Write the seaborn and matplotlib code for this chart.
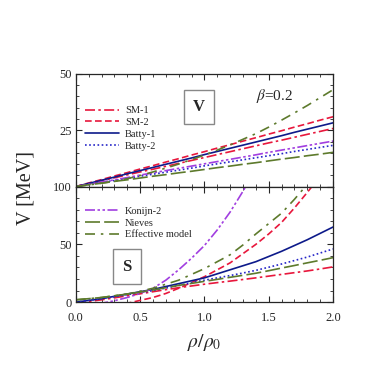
import seaborn as sns
import matplotlib.pyplot as plt
from matplotlib.ticker import MultipleLocator, FixedLocator

rho = [0.0, 0.1, 0.2, 0.3, 0.4, 0.5, 0.6, 0.7, 0.8, 0.9, 1.0,
       1.1, 1.2, 1.3, 1.4, 1.5, 1.6, 1.7, 1.8, 1.9, 2.0]

# vector potential (upper panel)
v_sm1 = [0, 1.3, 2.6, 3.9, 5.2, 6.5, 7.7, 9.0, 10.3, 11.6, 12.9,
         14.2, 15.5, 16.8, 18.1, 19.4, 20.6, 21.9, 23.2, 24.5, 25.8]
v_sm2 = [0, 1.6, 3.1, 4.7, 6.2, 7.8, 9.3, 10.9, 12.4, 14.0, 15.5,
         17.1, 18.6, 20.2, 21.7, 23.3, 24.8, 26.4, 27.9, 29.5, 31.0]
v_batty1 = [0, 1.4, 2.8, 4.2, 5.7, 7.1, 8.5, 9.9, 11.3, 12.7, 14.2,
            15.6, 17.0, 18.4, 19.8, 21.2, 22.6, 24.1, 25.5, 26.9, 28.3]
v_batty2 = [0, 0.9, 1.8, 2.7, 3.7, 4.6, 5.5, 6.4, 7.3, 8.2, 9.2,
            10.1, 11.0, 11.9, 12.8, 13.7, 14.6, 15.6, 16.5, 17.4, 18.3]
v_konijn2 = [0, 1.0, 2.0, 3.0, 4.0, 5.1, 6.1, 7.1, 8.1, 9.1, 10.1,
             11.1, 12.1, 13.1, 14.1, 15.2, 16.2, 17.2, 18.2, 19.2, 20.2]
v_nieves = [0, 0.8, 1.5, 2.3, 3.0, 3.8, 4.6, 5.3, 6.1, 6.8, 7.6,
            8.4, 9.1, 9.9, 10.6, 11.4, 12.2, 12.9, 13.7, 14.4, 15.2]
v_eff = [0, 0.7, 1.5, 2.4, 3.5, 4.9, 6.5, 8.2, 10.0, 12.0, 14.0,
         16.2, 18.5, 21.0, 23.5, 26.4, 29.5, 32.7, 36.0, 39.5, 43.0]

# scalar potential (lower panel)
s_sm1 = [-1, 0.5, 2, 3.7, 5.5, 7.2, 9, 10.8, 12.5, 14, 15.5,
         16.9, 18.2, 19.6, 21, 22.5, 24, 25.5, 27, 28.7, 30.5]
s_sm2 = [-10, -8, -6, -3.5, -1, 1.5, 4, 7.5, 12, 17, 22,
         28, 34, 42, 50, 59, 69, 81.5, 95, 109, 124]
s_batty1 = [0, 1.5, 3, 5, 7, 9, 11, 13.5, 16, 18.5, 21,
            24.5, 28, 31.5, 35, 39.5, 44, 49, 54, 59.5, 65]
s_batty2 = [0, 1.5, 3, 4.7, 6.5, 8.2, 10, 12.2, 14.5, 16.8, 19,
            21, 23, 25.2, 27.5, 30.2, 33, 36, 39, 42.5, 46]
s_konijn2 = [-4, -2.7, -1, 1.2, 4, 7.5, 12, 19, 28, 38, 49,
             62.5, 78, 96, 116, 137, 160, 184, 210, 237, 265]
s_nieves = [2, 3, 4, 5.5, 7, 8.7, 10.5, 12.5, 14.5, 16.2, 18,
            19.7, 21.5, 23.2, 25, 27.2, 29.5, 31.7, 34, 36.2, 38.5]
s_eff = [2, 3, 4, 5.5, 7, 9.5, 12, 15.5, 19, 24, 29,
         35, 41, 49.5, 59, 68, 77, 89, 102, 115, 128]

labels = ['SM-1', 'SM-2', 'Batty-1', 'Batty-2', 'Konijn-2', 'Nieves', 'Effective model']
v_series = [v_sm1, v_sm2, v_batty1, v_batty2, v_konijn2, v_nieves, v_eff]
s_series = [s_sm1, s_sm2, s_batty1, s_batty2, s_konijn2, s_nieves, s_eff]
colors = ['#e8173c', '#e8173c', '#0d1a8a', '#2626c8', '#a13ee0', '#5d7a2c', '#5d7a2c']
styles = [(0, (6, 2, 1.5, 2)), (0, (4, 2)), '-', (0, (1, 1.5)),
          (0, (6, 1.5, 1.5, 1.5, 1.5, 1.5)), (0, (9, 2.5)), (0, (6, 3.5, 1.5, 3.5))]

sns.set_theme(style='ticks')
plt.rcParams['font.family'] = ['Liberation Serif', 'DejaVu Serif']
plt.rcParams['mathtext.fontset'] = 'stix'

fig = plt.figure(figsize=(3.68, 3.68), dpi=100)
ax_v = fig.add_axes([0.206, 0.493, 0.699, 0.306])
ax_s = fig.add_axes([0.206, 0.179, 0.699, 0.314], sharex=ax_v)

for ax, series in [(ax_v, v_series), (ax_s, s_series)]:
    for vals, lab, col, ls in zip(series, labels, colors, styles):
        sns.lineplot(x=rho, y=vals, ax=ax, color=col, linestyle=ls, linewidth=1.2, label=lab)
    ax.tick_params(which='both', direction='in', top=True, right=True, labelsize=9, pad=3)
    ax.tick_params(which='major', length=4, width=0.8)
    ax.tick_params(which='minor', length=2, width=0.6)
    for sp in ax.spines.values():
        sp.set_linewidth(0.9)
    ax.set_xlim(0, 2)
    ax.xaxis.set_major_locator(MultipleLocator(0.5))
    ax.xaxis.set_minor_locator(MultipleLocator(0.1))

ax_v.set_ylim(0, 50)
ax_v.yaxis.set_major_locator(FixedLocator([0, 25, 50]))
ax_v.set_yticklabels(['', '25', '50'])
ax_v.yaxis.set_minor_locator(MultipleLocator(5))
ax_v.tick_params(axis='x', labelbottom=False)
ax_v.set_xlabel('')

ax_s.set_ylim(0, 100)
ax_s.yaxis.set_major_locator(MultipleLocator(50))
ax_s.yaxis.set_minor_locator(MultipleLocator(10))
ax_s.set_xticks([0, 0.5, 1.0, 1.5, 2.0])
ax_s.set_xticklabels(['0.0', '0.5', '1.0', '1.5', '2.0'])
ax_s.tick_params(axis='x', pad=7)
ax_s.set_xlabel(r'$\rho/\rho_0$', fontsize=14, labelpad=6)

fig.text(0.07, 0.49, 'V [MeV]', rotation=90, fontsize=14.5, ha='center', va='center')

h, l = ax_v.get_legend_handles_labels()
ax_v.legend(h[:4], l[:4], loc='upper left', bbox_to_anchor=(0.0, 0.80), frameon=False,
            fontsize=7.5, handlelength=3.2, labelspacing=0.25, handletextpad=0.6)
h, l = ax_s.get_legend_handles_labels()
ax_s.legend(h[4:], l[4:], loc='upper left', bbox_to_anchor=(0.0, 0.91), frameon=False,
            fontsize=7.5, handlelength=3.2, labelspacing=0.25, handletextpad=0.6)

box = dict(boxstyle='square,pad=0.55', facecolor='white', edgecolor='#888888', linewidth=1.0)
ax_v.text(0.479, 0.707, 'V', transform=ax_v.transAxes, fontsize=12, fontweight='bold',
          ha='center', va='center', bbox=box)
ax_s.text(0.198, 0.308, 'S', transform=ax_s.transAxes, fontsize=12, fontweight='bold',
          ha='center', va='center', bbox=box)
ax_v.text(0.774, 0.80, r'$\beta$=0.2', transform=ax_v.transAxes, fontsize=11,
          ha='center', va='center')

fig.savefig('out.png', dpi=100, facecolor='white')
plt.close('all')
